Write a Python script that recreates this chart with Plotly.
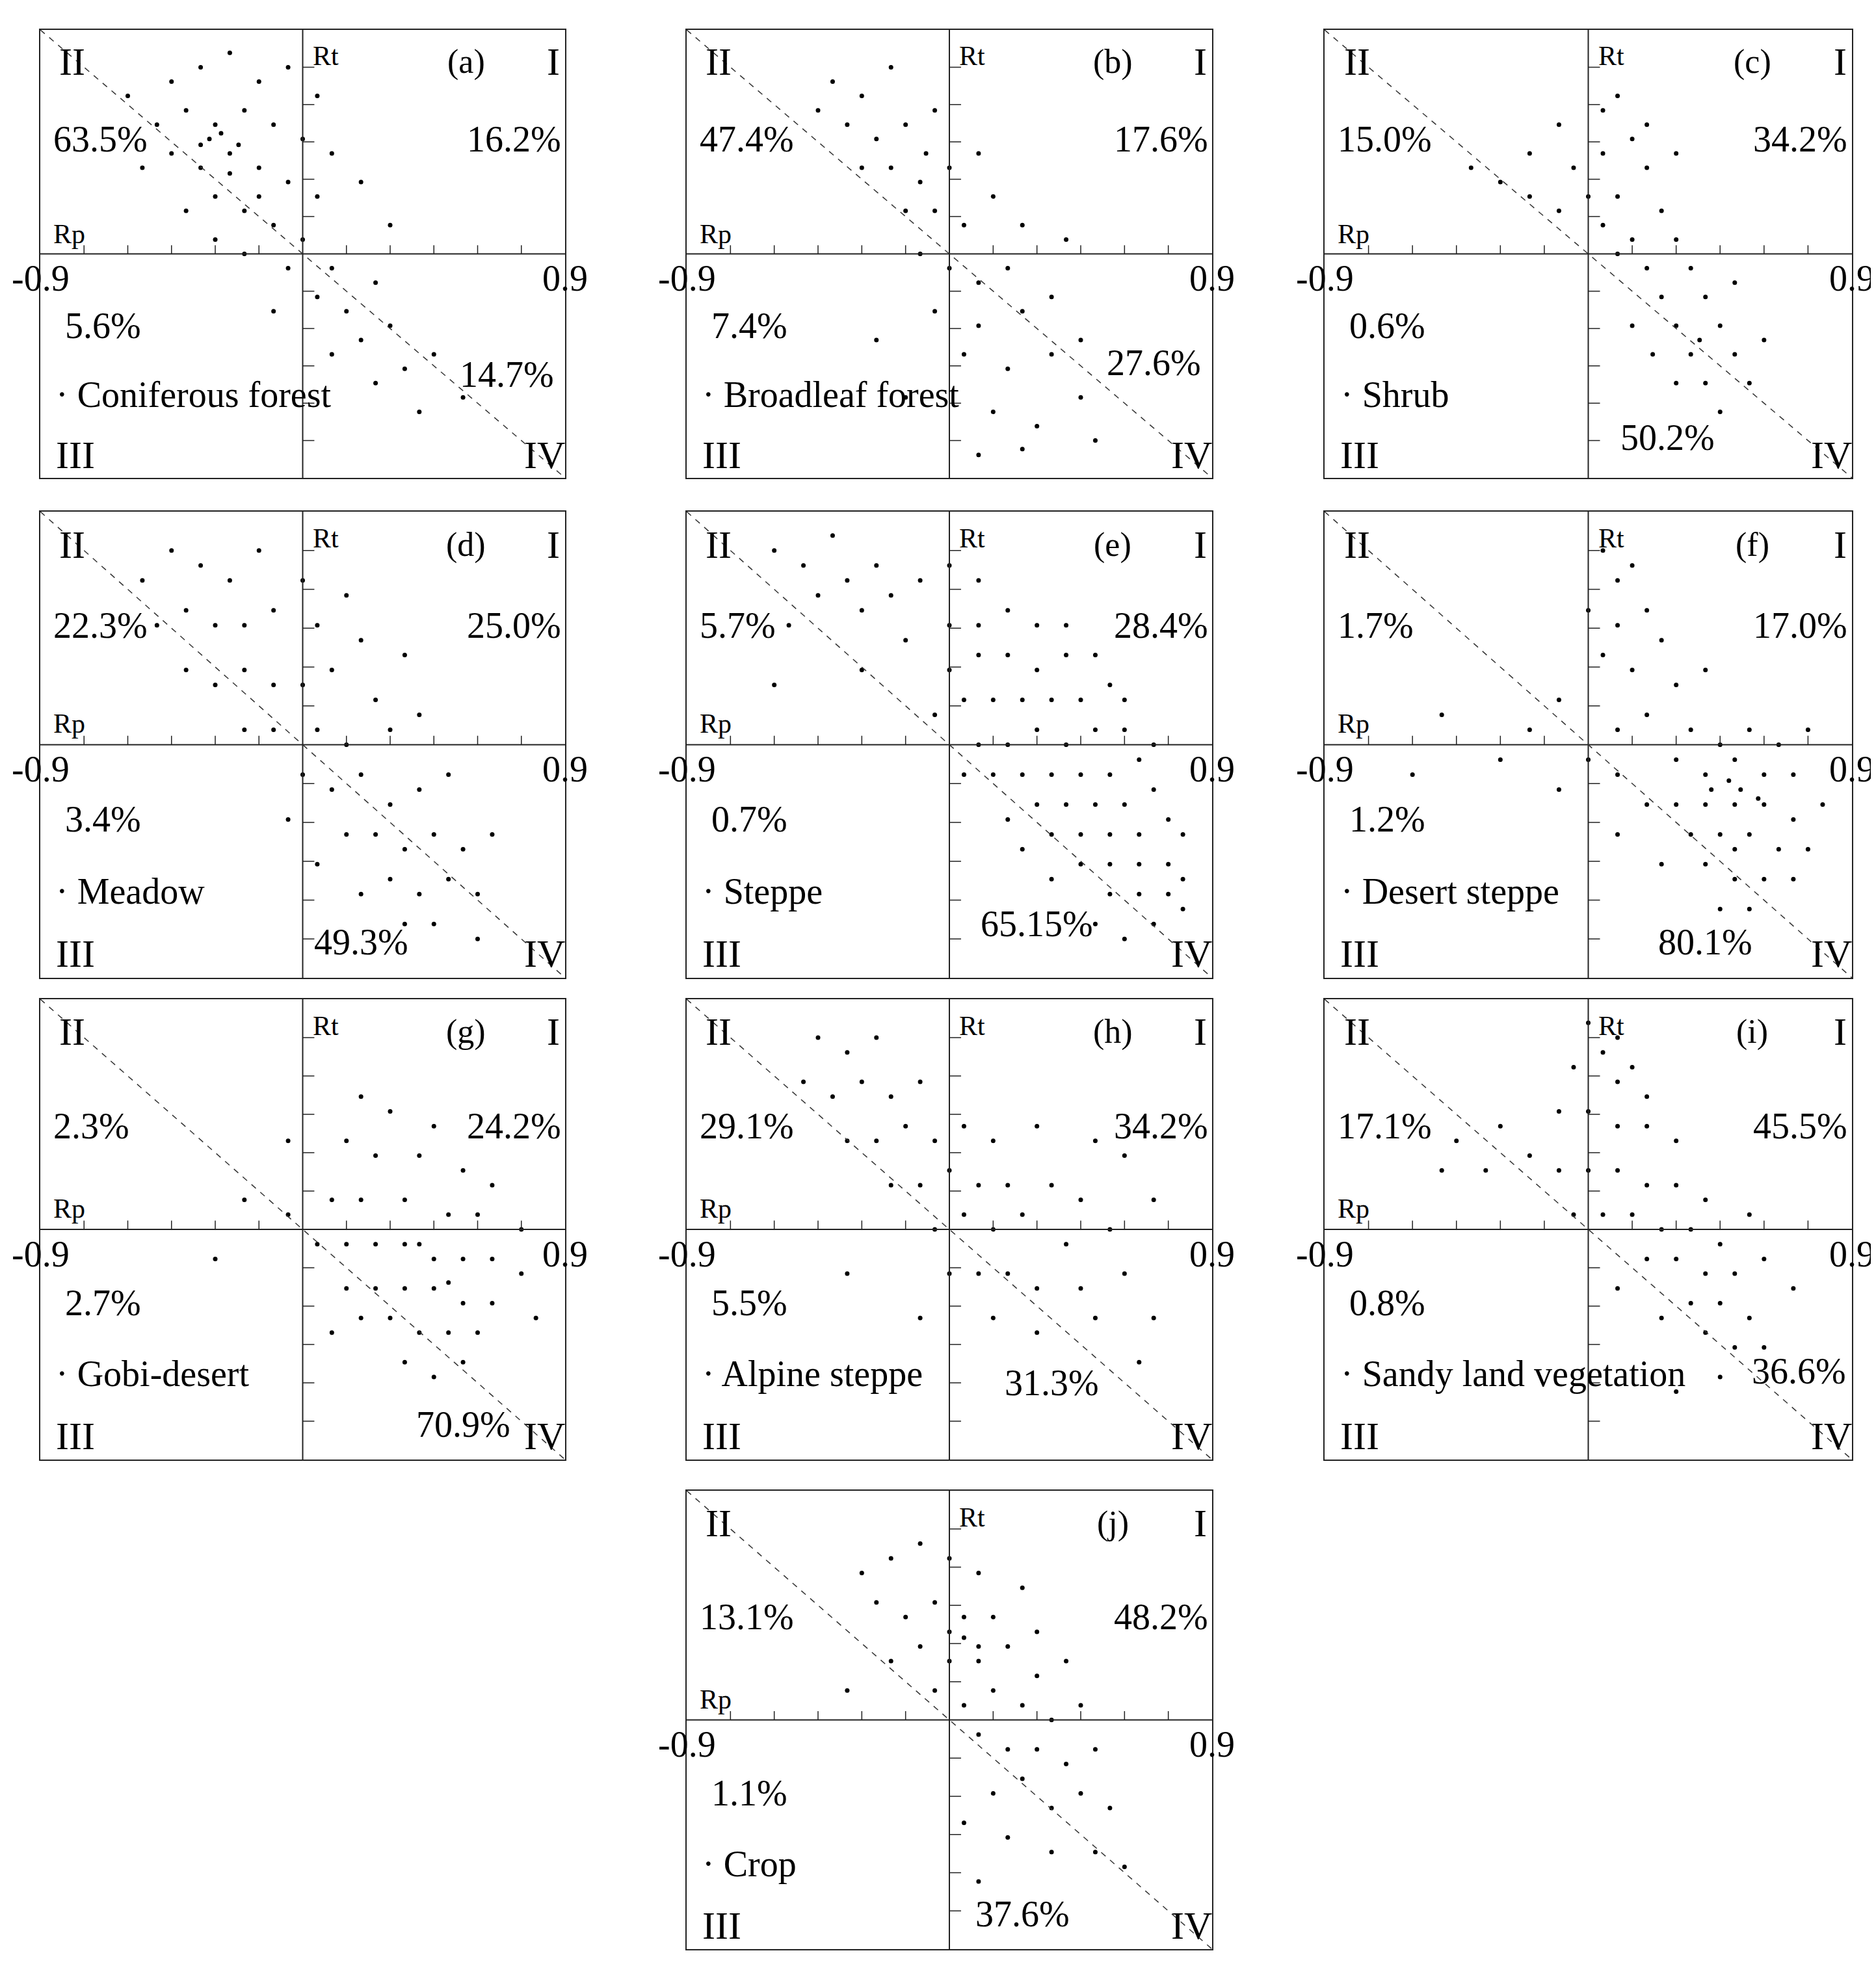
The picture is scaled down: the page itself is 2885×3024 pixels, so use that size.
import plotly.graph_objects as go

W, H = 2885, 3024
letters = ["a","b","c","d","e","f","g","h","i","j"]
names = ["Coniferous forest","Broadleaf forest","Shrub","Meadow","Steppe","Desert steppe",
         "Gobi-desert","Alpine steppe","Sandy land vegetation","Crop"]
# quadrant percentages: II, I, III, IV
pct_II = ["63.5%","47.4%","15.0%","22.3%","5.7%","1.7%","2.3%","29.1%","17.1%","13.1%"]
pct_I  = ["16.2%","17.6%","34.2%","25.0%","28.4%","17.0%","24.2%","34.2%","45.5%","48.2%"]
pct_III= ["5.6%","7.4%","0.6%","3.4%","0.7%","1.2%","2.7%","5.5%","0.8%","1.1%"]
pct_IV = ["14.7%","27.6%","50.2%","49.3%","65.15%","80.1%","70.9%","31.3%","36.6%","37.6%"]
pos_IV = [(0.7,-0.42),(0.7,-0.38),(0.27,-0.64),(0.2,-0.66),(0.3,-0.6),(0.4,-0.66),(0.55,-0.66),(0.35,-0.52),(0.72,-0.48),(0.25,-0.66)]
pos_II_y = [0.4,0.4,0.4,0.4,0.4,0.4,0.35,0.35,0.35,0.35]

pts = {
"a":[(-0.45,0.6),(-0.35,0.65),(-0.25,0.7),(-0.15,0.6),(-0.05,0.65),(0.05,0.55),(-0.5,0.45),(-0.4,0.5),(-0.3,0.45),(-0.2,0.5),(-0.1,0.45),(0,0.4),(0.1,0.35),(-0.55,0.3),(-0.45,0.35),(-0.35,0.3),(-0.25,0.35),(-0.15,0.3),(-0.05,0.25),(0.05,0.2),(-0.4,0.15),(-0.3,0.2),(-0.2,0.15),(-0.1,0.1),(0,0.05),(-0.3,0.05),(-0.2,0.0),(-0.05,-0.05),(0.1,-0.05),(0.05,-0.15),(0.15,-0.2),(0.25,-0.1),(0.2,-0.3),(0.3,-0.25),(0.35,-0.4),(0.45,-0.35),(0.4,-0.55),(0.1,-0.35),(-0.1,-0.2),(0.3,0.1),(0.2,0.25),(-0.6,0.55),(-0.32,0.4),(-0.28,0.42),(-0.22,0.38),(-0.35,0.38),(-0.25,0.28),(-0.15,0.2),(0.55,-0.5),(0.25,-0.45)],
"b":[(-0.4,0.6),(-0.3,0.55),(-0.2,0.65),(-0.35,0.45),(-0.25,0.4),(-0.15,0.45),(-0.05,0.5),(-0.3,0.3),(-0.2,0.3),(-0.1,0.25),(0,0.3),(0.1,0.35),(-0.15,0.15),(-0.05,0.15),(0.05,0.1),(0.15,0.2),(0.25,0.1),(-0.1,0.0),(0.0,-0.05),(0.1,-0.1),(0.2,-0.05),(-0.05,-0.2),(0.1,-0.25),(0.25,-0.2),(0.35,-0.15),(0.05,-0.35),(0.2,-0.4),(0.35,-0.35),(0.45,-0.3),(0.15,-0.55),(0.3,-0.6),(0.45,-0.5),(0.1,-0.7),(0.25,-0.68),(0.5,-0.65),(-0.25,-0.3),(-0.15,-0.5),(0.4,0.05),(-0.45,0.5),(-0.08,0.35)],
"c":[(-0.4,0.3),(-0.3,0.25),(-0.2,0.35),(-0.1,0.45),(-0.05,0.3),(0.05,0.5),(0.1,0.55),(0.15,0.4),(0.05,0.35),(0.2,0.3),(0.1,0.2),(0.25,0.15),(0.15,0.05),(0.3,0.05),(0.05,0.1),(0.2,-0.05),(0.35,-0.05),(0.25,-0.15),(0.4,-0.15),(0.3,-0.25),(0.45,-0.25),(0.35,-0.35),(0.5,-0.35),(0.4,-0.45),(0.55,-0.45),(0.3,-0.45),(0.45,-0.55),(0.6,-0.3),(0.15,-0.25),(0.1,0.0),(-0.1,0.15),(0.0,0.2),(0.3,0.35),(0.2,0.45),(0.5,-0.1),(-0.2,0.2),(0.38,-0.3),(0.22,-0.35)],
"d":[(-0.55,0.55),(-0.45,0.65),(-0.35,0.6),(-0.25,0.55),(-0.15,0.65),(0.0,0.55),(0.15,0.5),(-0.5,0.4),(-0.4,0.45),(-0.3,0.4),(-0.2,0.4),(-0.1,0.45),(0.05,0.4),(0.2,0.35),(0.35,0.3),(-0.4,0.25),(-0.3,0.2),(-0.2,0.25),(-0.1,0.2),(0.0,0.2),(0.1,0.25),(0.25,0.15),(-0.2,0.05),(-0.1,0.05),(0.05,0.05),(0.15,0.0),(0.3,0.05),(0.4,0.1),(0.0,-0.1),(0.1,-0.15),(0.2,-0.1),(0.3,-0.2),(0.4,-0.15),(0.5,-0.1),(0.15,-0.3),(0.25,-0.3),(0.35,-0.35),(0.45,-0.3),(0.55,-0.35),(0.3,-0.45),(0.4,-0.5),(0.5,-0.45),(0.6,-0.5),(0.45,-0.6),(0.6,-0.65),(0.2,-0.5),(0.05,-0.4),(0.65,-0.3),(-0.05,-0.25),(0.35,-0.6)],
"e":[(-0.6,0.65),(-0.5,0.6),(-0.4,0.7),(-0.45,0.5),(-0.35,0.55),(-0.3,0.45),(-0.25,0.6),(-0.2,0.5),(-0.55,0.4),(-0.15,0.35),(-0.1,0.55),(0.0,0.6),(0.1,0.55),(-0.3,0.25),(-0.6,0.2),(0.0,0.4),(0.1,0.4),(0.2,0.45),(0.3,0.4),(0.0,0.25),(0.1,0.3),(0.2,0.3),(0.3,0.25),(0.4,0.3),(0.05,0.15),(0.15,0.15),(0.25,0.15),(0.35,0.15),(0.45,0.15),(0.55,0.2),(0.1,0.0),(0.2,0.0),(0.3,0.05),(0.4,0.0),(0.5,0.05),(0.6,0.05),(0.15,-0.1),(0.25,-0.1),(0.35,-0.1),(0.45,-0.1),(0.55,-0.1),(0.65,-0.05),(0.3,-0.2),(0.4,-0.2),(0.5,-0.2),(0.6,-0.2),(0.7,-0.15),(0.35,-0.3),(0.45,-0.3),(0.55,-0.3),(0.65,-0.3),(0.75,-0.25),(0.45,-0.4),(0.55,-0.4),(0.65,-0.4),(0.75,-0.4),(0.55,-0.5),(0.65,-0.5),(0.75,-0.5),(0.7,-0.6),(0.8,-0.55),(0.2,-0.25),(0.05,-0.1),(-0.05,0.1),(0.4,0.4),(0.5,0.3),(0.6,0.15),(0.7,0.0),(0.8,-0.3),(0.25,-0.35),(0.35,-0.45),(0.5,-0.6),(0.6,-0.65),(0.8,-0.45)],
"f":[(0.05,0.65),(0.1,0.55),(0.15,0.6),(0.0,0.45),(0.1,0.4),(0.2,0.45),(0.25,0.35),(0.05,0.3),(0.15,0.25),(0.3,0.2),(0.4,0.25),(-0.1,0.15),(-0.2,0.05),(-0.3,-0.05),(-0.1,-0.15),(0.0,-0.05),(0.1,0.05),(0.2,0.1),(0.1,-0.1),(0.2,-0.2),(0.1,-0.3),(0.3,-0.05),(0.35,0.05),(0.4,-0.1),(0.45,0.0),(0.5,-0.05),(0.55,0.05),(0.6,-0.1),(0.65,0.0),(0.7,-0.1),(0.3,-0.2),(0.4,-0.2),(0.5,-0.2),(0.6,-0.2),(0.7,-0.25),(0.35,-0.3),(0.45,-0.3),(0.55,-0.3),(0.65,-0.35),(0.75,-0.35),(0.4,-0.4),(0.5,-0.45),(0.6,-0.45),(0.7,-0.45),(0.45,-0.55),(0.55,-0.55),(0.25,-0.4),(0.8,-0.2),(0.75,0.05),(0.48,-0.12),(0.52,-0.15),(0.58,-0.18),(0.42,-0.15),(0.5,-0.35),(-0.5,0.1),(-0.6,-0.1)],
"g":[(0.2,0.45),(0.3,0.4),(0.45,0.35),(0.15,0.3),(0.25,0.25),(0.4,0.25),(0.55,0.2),(0.65,0.15),(0.1,0.1),(0.2,0.1),(0.35,0.1),(0.5,0.05),(0.6,0.05),(0.75,0.0),(0.05,-0.05),(0.15,-0.05),(0.25,-0.05),(0.35,-0.05),(0.45,-0.1),(0.55,-0.1),(0.65,-0.1),(0.75,-0.15),(0.15,-0.2),(0.25,-0.2),(0.35,-0.2),(0.45,-0.2),(0.55,-0.25),(0.65,-0.25),(0.2,-0.3),(0.3,-0.3),(0.4,-0.35),(0.5,-0.35),(0.6,-0.35),(0.35,-0.45),(0.45,-0.5),(0.55,-0.45),(0.8,-0.3),(0.1,-0.35),(-0.05,0.05),(-0.2,0.1),(-0.3,-0.1),(-0.05,0.3),(0.4,-0.05),(0.5,-0.18)],
"h":[(-0.45,0.65),(-0.35,0.6),(-0.25,0.65),(-0.5,0.5),(-0.4,0.45),(-0.3,0.5),(-0.2,0.45),(-0.1,0.5),(-0.35,0.3),(-0.25,0.3),(-0.15,0.35),(-0.05,0.3),(0.05,0.35),(0.15,0.3),(0.3,0.35),(0.5,0.3),(0.6,0.25),(-0.2,0.15),(-0.1,0.15),(0.0,0.2),(0.1,0.15),(0.2,0.15),(0.35,0.15),(0.45,0.1),(-0.05,0.0),(0.05,0.05),(0.15,0.0),(0.25,0.05),(0.4,-0.05),(0.55,0.0),(0.0,-0.15),(0.1,-0.15),(0.2,-0.15),(0.3,-0.2),(0.45,-0.2),(0.6,-0.15),(0.15,-0.3),(0.3,-0.35),(0.5,-0.3),(0.7,-0.3),(-0.35,-0.15),(-0.1,-0.3),(0.65,-0.45),(0.7,0.1)],
"i":[(0.0,0.7),(0.05,0.6),(0.1,0.65),(-0.05,0.55),(0.1,0.5),(0.15,0.55),(0.2,0.45),(-0.1,0.4),(0.0,0.4),(0.1,0.35),(0.2,0.35),(0.3,0.3),(-0.3,0.35),(-0.45,0.3),(-0.5,0.2),(-0.35,0.2),(-0.2,0.25),(-0.1,0.2),(0.0,0.2),(0.1,0.2),(0.2,0.15),(0.3,0.15),(0.4,0.1),(0.05,0.05),(0.15,0.05),(0.25,0.0),(0.35,0.0),(0.45,-0.05),(0.55,0.05),(0.2,-0.1),(0.3,-0.1),(0.4,-0.15),(0.5,-0.15),(0.6,-0.1),(0.35,-0.25),(0.45,-0.25),(0.55,-0.3),(0.4,-0.35),(0.5,-0.4),(0.6,-0.4),(0.45,-0.5),(0.25,-0.3),(0.1,-0.2),(-0.05,0.05),(0.7,-0.2),(0.3,-0.55)],
"j":[(-0.3,0.5),(-0.2,0.55),(-0.1,0.6),(0.0,0.55),(0.1,0.5),(0.25,0.45),(-0.25,0.4),(-0.15,0.35),(-0.05,0.4),(0.05,0.35),(0.15,0.35),(0.3,0.3),(-0.2,0.2),(-0.1,0.25),(0.0,0.2),(0.1,0.2),(0.2,0.25),(0.3,0.15),(0.4,0.2),(-0.05,0.1),(0.05,0.05),(0.15,0.1),(0.25,0.05),(0.35,0.0),(0.45,0.05),(0.1,-0.05),(0.2,-0.1),(0.3,-0.1),(0.4,-0.15),(0.5,-0.1),(0.15,-0.25),(0.25,-0.2),(0.35,-0.3),(0.45,-0.25),(0.55,-0.3),(0.05,-0.35),(0.2,-0.4),(0.35,-0.45),(0.5,-0.45),(0.6,-0.5),(0.1,-0.55),(-0.35,0.1),(0.05,0.28),(0.0,0.3),(0.1,0.25)],
}

# panel boxes in pixels (left, right, top, bottom)
cols = [(54, 861), (1048, 1856), (2029, 2840)]
rows = [(38, 727), (779, 1496), (1529, 2237), (2285, 2990)]
boxes = []
for r in range(3):
    for c in range(3):
        boxes.append((cols[c], rows[r]))
boxes.append((cols[1], rows[3]))

xticks = [-0.75,-0.6,-0.45,-0.3,-0.15,0.15,0.3,0.45,0.6,0.75]
yticks = [-0.65,-0.52,-0.39,-0.26,-0.13,0.13,0.26,0.39,0.52,0.65]

FONT = "Liberation Serif, Times New Roman, DejaVu Serif, serif"
fig = go.Figure()
shapes, annos = [], []
layout = {}
for k, L in enumerate(letters):
    (x0, x1), (y0, y1) = boxes[k]
    ax = "" if k == 0 else str(k+1)
    xa, ya = "x"+ax, "y"+ax
    layout["xaxis"+ax] = dict(domain=[x0/W, x1/W], range=[-0.9,0.9], showgrid=False, zeroline=False,
        showticklabels=False, ticks="", showline=True, mirror=True, linecolor="#222", linewidth=2,
        anchor=ya, fixedrange=True)
    layout["yaxis"+ax] = dict(domain=[1-y1/H, 1-y0/H], range=[-0.78,0.78], showgrid=False, zeroline=False,
        showticklabels=False, ticks="", showline=True, mirror=True, linecolor="#222", linewidth=2,
        anchor=xa, fixedrange=True)
    P = pts[L]
    fig.add_trace(go.Scatter(x=[p[0] for p in P], y=[p[1] for p in P], mode="markers",
        marker=dict(size=7, color="black"), xaxis=xa, yaxis=ya, showlegend=False, hoverinfo="skip"))
    shapes.append(dict(type="line", xref=xa, yref=ya, x0=-0.9, x1=0.9, y0=0, y1=0, line=dict(color="#222", width=2)))
    shapes.append(dict(type="line", xref=xa, yref=ya, x0=0, x1=0, y0=-0.78, y1=0.78, line=dict(color="#222", width=2)))
    shapes.append(dict(type="line", xref=xa, yref=ya, x0=-0.9, x1=0.9, y0=0.78, y1=-0.78, line=dict(color="#333", width=1.5, dash="dash")))
    for t in xticks:
        shapes.append(dict(type="line", xref=xa, yref=ya, x0=t, x1=t, y0=0, y1=0.03, line=dict(color="#222", width=1.5)))
    for t in yticks:
        shapes.append(dict(type="line", xref=xa, yref=ya, x0=0, x1=0.04, y0=t, y1=t, line=dict(color="#222", width=1.5)))
    def A(x, y, text, size=56, xanchor="center", yanchor="middle"):
        annos.append(dict(xref=xa, yref=ya, x=x, y=y, text=text, showarrow=False,
            font=dict(family=FONT, size=size, color="black"), xanchor=xanchor, yanchor=yanchor))
    A(-0.79, 0.67, "II", size=60); A(0.86, 0.67, "I", size=60); A(-0.78, -0.7, "III", size=60); A(0.83, -0.7, "IV", size=60)
    A(0.56, 0.67, "(%s)" % L, size=52)
    A(0.03, 0.69, "Rt", size=42, xanchor="left")
    A(-0.86, 0.07, "Rp", size=42, xanchor="left")
    A(0, 0.79, "0.78", xanchor="right", yanchor="middle")
    A(0, -0.81, "-0.78", xanchor="right", yanchor="middle")
    A(-0.9, -0.01, "-0.9", yanchor="top")
    A(0.9, -0.01, "0.9", yanchor="top")
    A(-0.86, pos_II_y[k], pct_II[k], xanchor="left")
    A(0.89, pos_II_y[k], pct_I[k], xanchor="right")
    A(-0.82, -0.25, pct_III[k], xanchor="left")
    A(pos_IV[k][0], pos_IV[k][1], pct_IV[k])
    A(-0.85, -0.49, "· " + names[k], xanchor="left")

fig.update_layout(width=W, height=H, margin=dict(l=0, r=0, t=0, b=0), paper_bgcolor="white",
    plot_bgcolor="white", shapes=shapes, annotations=annos, **layout)
fig.write_html("out.html")
